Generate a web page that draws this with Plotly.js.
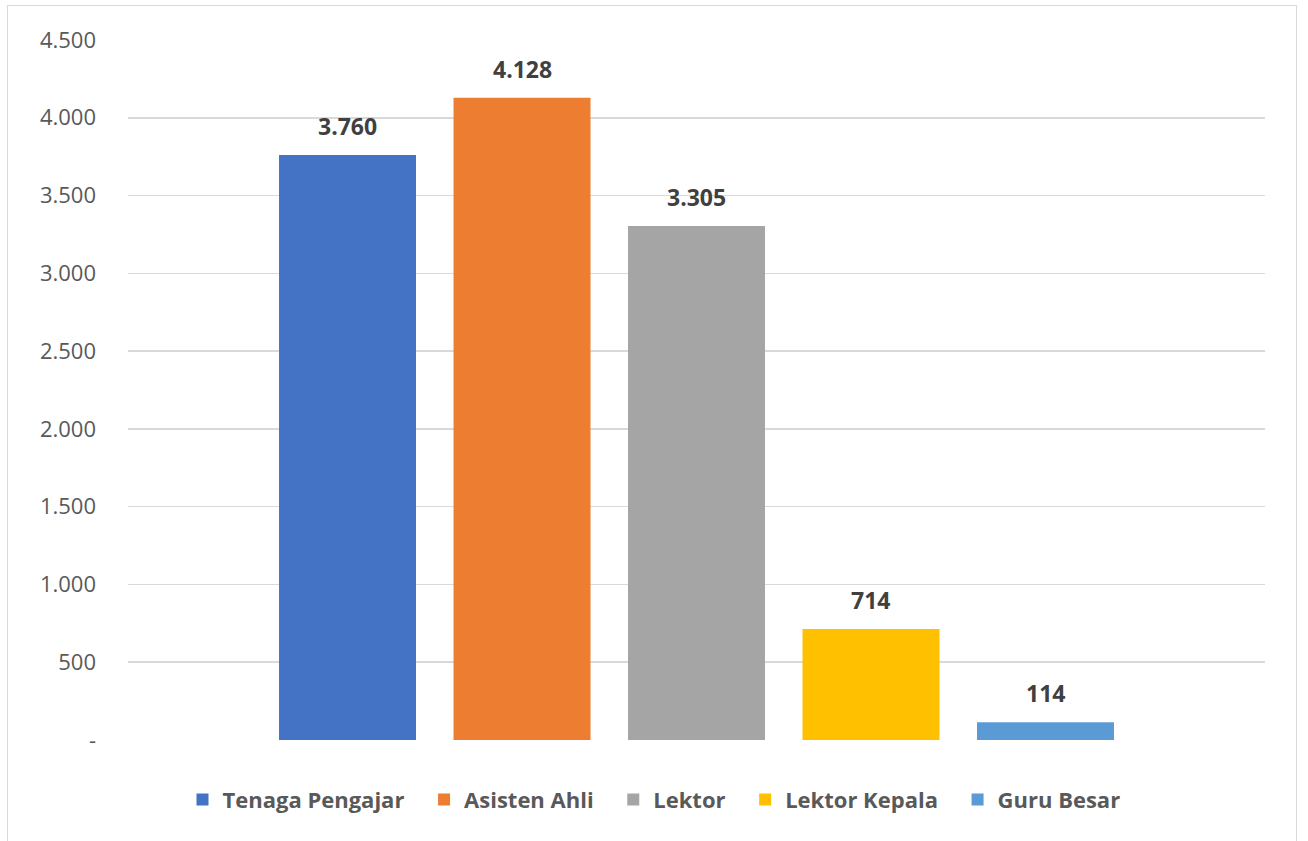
<!DOCTYPE html>
<html>
<head>
<meta charset="utf-8">
<script src="https://cdn.plot.ly/plotly-3.0.1.min.js"></script>
<style>
  html, body { margin: 0; padding: 0; background: #ffffff; }
  #chart { position: absolute; left: 0; top: 0; width: 1308px; height: 841px; }
  #frame { position: absolute; left: 7px; top: 5px; width: 1290px; height: 840px;
           border: 1px solid #d9d9d9; box-sizing: border-box; pointer-events: none; }
</style>
</head>
<body>
<div id="chart"></div>
<div id="frame"></div>
<script>
// ---- data ----
const seriesNames = ["Tenaga Pengajar", "Asisten Ahli", "Lektor", "Lektor Kepala", "Guru Besar"];
const seriesValues = [3760, 4128, 3305, 714, 114];
const seriesColors = ["#4472C4", "#ED7D31", "#A5A5A5", "#FFC000", "#5B9BD5"];
const yTickValues = [0, 500, 1000, 1500, 2000, 2500, 3000, 3500, 4000, 4500];
const yTickLabels = ["-", "500", "1.000", "1.500", "2.000", "2.500", "3.000", "3.500", "4.000", "4.500"];

function fmt(v) {
  return String(v).replace(/\B(?=(\d{3})+(?!\d))/g, ".");
}

const traces = seriesNames.map((name, i) => ({
  type: "bar",
  name: name + (i < seriesNames.length - 1 ? "\u2002\u2009" : ""),
  x: [name],
  y: [seriesValues[i]],
  marker: { color: seriesColors[i] },
  hoverinfo: "name+y"
}));

const annotations = seriesNames.map((name, i) => ({
  x: name,
  y: seriesValues[i],
  xref: "x",
  yref: "y",
  text: "<b>" + fmt(seriesValues[i]) + "</b>",
  showarrow: false,
  yanchor: "bottom",
  xanchor: "center",
  yshift: 11,
  font: { family: "Open Sans", size: 23, color: "#404040" }
}));

const layout = {
  width: 1308,
  height: 841,
  paper_bgcolor: "rgba(0,0,0,0)",
  plot_bgcolor: "#ffffff",
  margin: { l: 128, r: 43, t: 40, b: 101 },
  barmode: "overlay",
  bargap: 0.215,
  showlegend: true,
  legend: {
    orientation: "h",
    xref: "container",
    yref: "container",
    x: 0.5,
    xanchor: "center",
    y: 0.049,
    yanchor: "middle",
    font: { family: "Open Sans", size: 22, color: "#595959", weight: "bold" },
    itemwidth: 30,
    traceorder: "normal"
  },
  xaxis: {
    type: "category",
    range: [-1.258, 5.258],
    showticklabels: false,
    showgrid: false,
    zeroline: false,
    showline: false,
    ticks: ""
  },
  yaxis: {
    range: [0, 4500],
    tickvals: yTickValues,
    ticktext: yTickLabels,
    showgrid: true,
    gridcolor: "#d9d9d9",
    gridwidth: 1.5,
    zeroline: false,
    showline: false,
    ticks: "",
    ticklabelstandoff: 31,
    tickfont: { family: "Open Sans", size: 22, color: "#595959" }
  },
  annotations: annotations
};

Plotly.newPlot("chart", traces, layout, { displayModeBar: false, staticPlot: true });
</script>
</body>
</html>
